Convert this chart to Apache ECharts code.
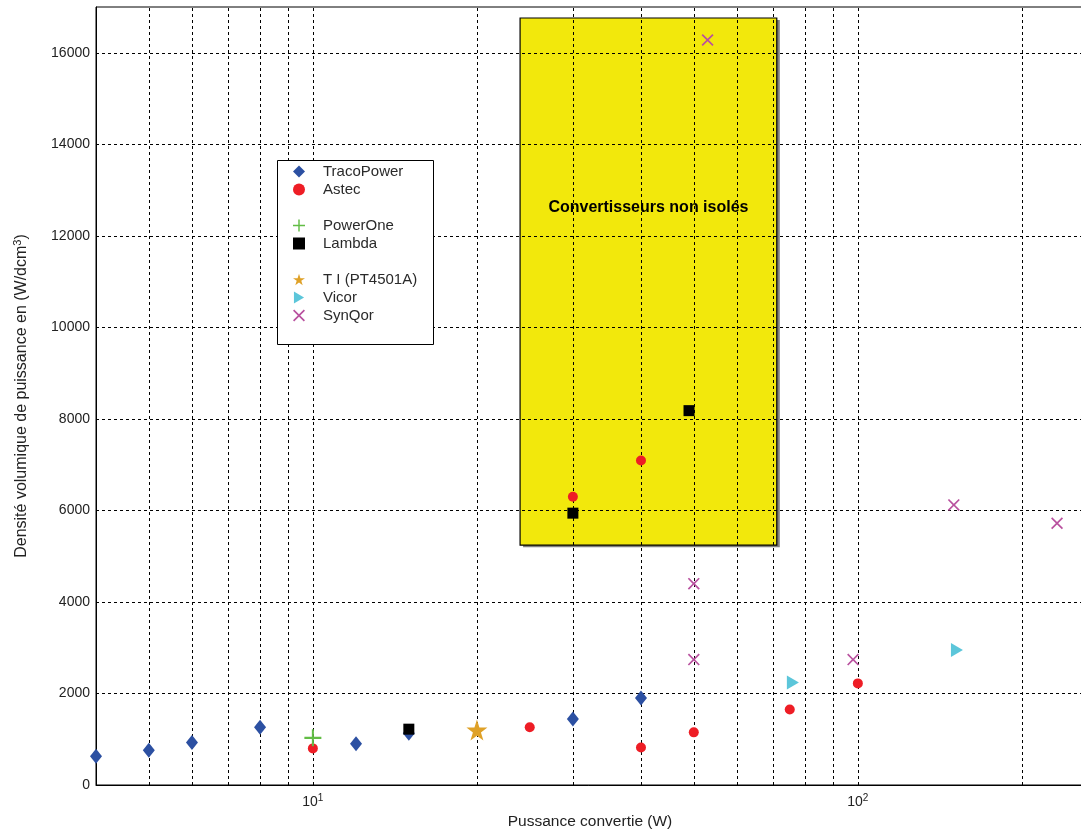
<!DOCTYPE html>
<html>
<head>
<meta charset="utf-8">
<script src="https://cdn.jsdelivr.net/npm/echarts@6/dist/echarts.min.js"></script>
<style>html,body{margin:0;padding:0;background:#fff}#c{width:1081px;height:834px}</style>
</head>
<body>
<div id="c"></div>
<script>
// ---- data ----
const tracoPower = [[4,630],[5,760],[6,930],[8,1260],[12,900],[15,1130],[30,1440],[40,1900]];
const astec = [[10,800],[25,1260],[30,6300],[40,7090],[40,820],[50,1150],[75,1650],[100,2220]];
const powerOne = [[10,1030]];
const lambda = [[15,1220],[30,5940],[49,8180]];
const ti = [[20,1200]];
const vicor = [[76,2240],[152,2950]];
const synQor = [[50,2740],[50,4400],[53,16280],[98,2740],[150,6120],[232,5720]];
const xGridValues = [5,6,7,8,9,10,20,30,40,50,60,70,80,90,100,200];
const yGridValues = [2000,4000,6000,8000,10000,12000,14000,16000];
const zoneX = [24, 71];
const zoneY = [5240, 16760];
const zoneLabel = 'Convertisseurs non isolés';

const FONT = '"Liberation Sans", Arial, sans-serif';
const PLUS = 'path://M4.4,0H5.6V4.4H10V5.6H5.6V10H4.4V5.6H0V4.4H4.4Z';
const CROSS = 'path://M0,1L1,0L5,4L9,0L10,1L6,5L10,9L9,10L5,6L1,10L0,9L4,5Z';
const STAR = 'path://M50,0L61.8,36.2L100,36.2L69.1,58.6L80.9,95.1L50,72.7L19.1,95.1L30.9,58.6L0,36.2L38.2,36.2Z';
const TRI = 'path://M0,0L11,6.5L0,13Z';

function sc(name, data, symbol, size, color) {
  return { name, type: 'scatter', data, symbol, symbolSize: size, z: 5,
    itemStyle: { color, opacity: 1 }, emphasis: { disabled: true }, animation: false };
}
const zoneCoords = [[{ coord: [zoneX[0], zoneY[1]] }, { coord: [zoneX[1], zoneY[0]] }]];

const chart = echarts.init(document.getElementById('c'), null, { renderer: 'canvas' });
const legendCommon = { orient: 'vertical', left: 293, padding: 0, itemWidth: 12, itemHeight: 12, itemGap: 3, z: 10,
  selectedMode: false, textStyle: { fontFamily: FONT, fontSize: 15, color: '#2a2a2a', padding: [0,0,0,13] } };
chart.setOption({
  backgroundColor: '#fff',
  animation: false,
  textStyle: { fontFamily: FONT },
  grid: { left: 96, top: 7, width: 988, height: 778, show: true, borderColor: '#000', borderWidth: 1,
          backgroundColor: '#fff', outerBoundsMode: 'none', containLabel: false },
  xAxis: {
    type: 'log', logBase: 10, min: 4, max: 260,
    name: 'Pussance convertie (W)', nameLocation: 'middle', nameGap: 29,
    nameTextStyle: { fontFamily: FONT, fontSize: 15.5, color: '#222' },
    axisLine: { show: true, lineStyle: { color: '#000', width: 1 } },
    axisTick: { show: false },
    splitLine: { show: false }, minorSplitLine: { show: false },
    axisLabel: {
      margin: 8, color: '#222', fontFamily: FONT, fontSize: 14,
      formatter: v => Math.abs(v - 10) < 1e-6 ? '10{s|1}' : (Math.abs(v - 100) < 1e-6 ? '10{s|2}' : ''),
      rich: { s: { fontSize: 10, verticalAlign: 'top', padding: [0,0,8,0], color: '#222', fontFamily: FONT } }
    }
  },
  yAxis: {
    type: 'value', min: 0, max: 17000, interval: 2000,
    name: 'Densité volumique de puissance en (W/dcm{s|3})', nameLocation: 'middle', nameGap: 64,
    nameTextStyle: { fontFamily: FONT, fontSize: 16, color: '#222',
      rich: { s: { fontSize: 11, padding: [0,0,9,0], color: '#222', fontFamily: FONT } } },
    axisLine: { show: true, lineStyle: { color: '#000', width: 1 } },
    axisTick: { show: false },
    splitLine: { show: false },
    axisLabel: { margin: 6, color: '#222', fontFamily: FONT, fontSize: 14,
      formatter: v => v > 16000 ? '' : String(v) }
  },
  legend: [
    Object.assign({}, legendCommon, { top: 164, data: ['TracoPower', 'Astec'] }),
    Object.assign({}, legendCommon, { top: 218, data: ['PowerOne', 'Lambda'] }),
    Object.assign({}, legendCommon, { top: 272, data: ['T I (PT4501A)', 'Vicor', 'SynQor'] })
  ],
  graphic: [{
    type: 'rect', left: 277, top: 160, z: 8, silent: true,
    shape: { width: 156, height: 184 },
    style: { fill: '#fff', stroke: '#000', lineWidth: 1 }
  }],
  series: [
    { type: 'scatter', data: [], z: 1, silent: true, animation: false,
      markArea: { silent: true,
        itemStyle: { color: '#F2E80C', borderWidth: 0,
          shadowColor: 'rgba(0,0,0,0.5)', shadowOffsetX: 3, shadowOffsetY: 2, shadowBlur: 0 },
        label: { show: false },
        data: zoneCoords
      } },
    { type: 'scatter', data: [], z: 2, silent: true, animation: false,
      markLine: { silent: true, symbol: ['none','none'], label: { show: false },
        lineStyle: { color: '#000', width: 1, type: [3,3] },
        emphasis: { disabled: true },
        data: xGridValues.map(v => ({ xAxis: v })).concat(yGridValues.map(v => ({ yAxis: v })))
      } },
    { type: 'scatter', data: [], z: 3, silent: true, animation: false,
      markArea: { silent: true,
        itemStyle: { color: 'rgba(0,0,0,0)', borderColor: '#000', borderWidth: 1.2 },
        label: { show: true, position: 'insideTop', distance: 182, formatter: zoneLabel,
          color: '#000', fontWeight: 'bold', fontSize: 16, fontFamily: FONT },
        data: zoneCoords
      } },
    sc('TracoPower', tracoPower, 'diamond', [12, 15], '#2C50A2'),
    sc('Astec', astec, 'circle', 10, '#EE1D25'),
    sc('PowerOne', powerOne, PLUS, 17, '#62BD45'),
    sc('Lambda', lambda, 'rect', 11, '#000'),
    sc('T I (PT4501A)', ti, STAR, 21, '#DFA127'),
    sc('Vicor', vicor, TRI, [12, 14], '#5CC6DA'),
    sc('SynQor', synQor, CROSS, 12, '#B9519F')
  ]
});
</script>
</body>
</html>
